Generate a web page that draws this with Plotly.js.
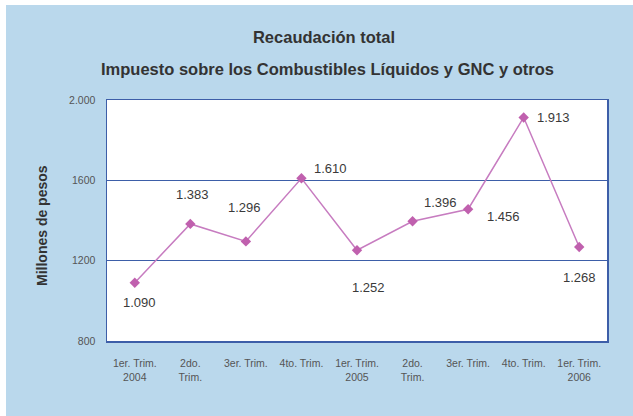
<!DOCTYPE html>
<html>
<head>
<meta charset="utf-8">
<script src="https://cdn.plot.ly/plotly-3.0.1.min.js"></script>
<style>
  html, body { margin: 0; padding: 0; background: #ffffff; width: 633px; height: 416px; overflow: hidden; }
  #chart { position: absolute; left: 6px; top: 5px; width: 627px; height: 411px; }
</style>
</head>
<body>
<div id="chart"></div>
<script>
// Data
const categories = ["1er. Trim.<br>2004", "2do.<br>Trim.", "3er. Trim.", "4to. Trim.", "1er. Trim.<br>2005", "2do.<br>Trim.", "3er. Trim.", "4to. Trim.", "1er. Trim.<br>2006"];
const values = [1090, 1383, 1296, 1610, 1252, 1396, 1456, 1913, 1268];
const yTickVals = [800, 1200, 1600, 2000];
const yTickText = ["800", "1200", "1600", "2.000"];

// label offsets (styling, px)
const labelDX = [5, 2, -1, 29, 11, 28, 35, 30, 0];
const labelDY = [-20, 29, 34, 10, -37, 19, -7, 0, -30];

function fmt(v) {
  if (v >= 1000) return Math.floor(v / 1000) + "." + String(v % 1000).padStart(3, "0");
  return String(v);
}

const xIdx = categories.map((c, i) => i);

const trace = {
  x: xIdx,
  y: values,
  type: "scatter",
  mode: "lines+markers",
  line: { color: "#c77cc0", width: 1.5 },
  marker: { symbol: "diamond", size: 8, color: "#c060ae" },
  hoverinfo: "skip"
};

const annotations = values.map((v, i) => ({
  x: i, y: v, xref: "x", yref: "y",
  text: fmt(v), showarrow: false,
  xshift: labelDX[i], yshift: labelDY[i],
  font: { family: "Liberation Sans, Arial, sans-serif", size: 13, color: "#3a3a3a" }
}));

annotations.push({
  xref: "paper", yref: "paper", x: (321 - 101) / 500, y: (336 - 64) / 241,
  xanchor: "center", yanchor: "middle", showarrow: false,
  text: "Impuesto sobre los Combustibles Líquidos y GNC y otros",
  font: { family: "Liberation Sans, Arial, sans-serif", size: 16.5, color: "#333333", weight: "bold" }
});
annotations.push({
  xref: "paper", yref: "paper", x: (36 - 101) / 500, y: (336 - 221) / 241,
  xanchor: "center", yanchor: "middle", showarrow: false, textangle: -90,
  text: "Millones de pesos",
  font: { family: "Liberation Sans, Arial, sans-serif", size: 14, color: "#333333", weight: "bold" }
});

const layout = {
  width: 627, height: 411,
  paper_bgcolor: "#bad8ec",
  plot_bgcolor: "#ffffff",
  margin: { l: 101, r: 26, t: 95, b: 75, pad: 0 },
  showlegend: false,
  title: {
    text: "Recaudación total",
    x: 318 / 627, xanchor: "center",
    y: 1 - 32 / 411, yanchor: "middle",
    font: { family: "Liberation Sans, Arial, sans-serif", size: 16.5, color: "#333333", weight: "bold" }
  },
  xaxis: {
    type: "linear",
    range: [-0.5, 8.5],
    tickmode: "array",
    tickvals: xIdx,
    ticktext: categories,
    showgrid: false,
    zeroline: false,
    showline: true, mirror: true, linecolor: "#3d5ea8", linewidth: 1.5,
    ticks: "", ticklabelstandoff: 12,
    tickfont: { family: "Liberation Sans Narrow, Liberation Sans, Arial, sans-serif", size: 10.5, color: "#555555" },
    fixedrange: true
  },
  yaxis: {
    range: [800, 2000],
    tickmode: "array",
    tickvals: yTickVals,
    ticktext: yTickText,
    showgrid: true, gridcolor: "#3d5ea8", gridwidth: 1,
    zeroline: false,
    showline: true, mirror: true, linecolor: "#3d5ea8", linewidth: 1.5,
    ticks: "", ticklabelstandoff: 8,
    tickfont: { family: "Liberation Sans Narrow, Liberation Sans, Arial, sans-serif", size: 10.5, color: "#555555" },
    fixedrange: true
  },
  annotations: annotations
};

Plotly.newPlot("chart", [trace], layout, { displayModeBar: false, staticPlot: true });
</script>
</body>
</html>
